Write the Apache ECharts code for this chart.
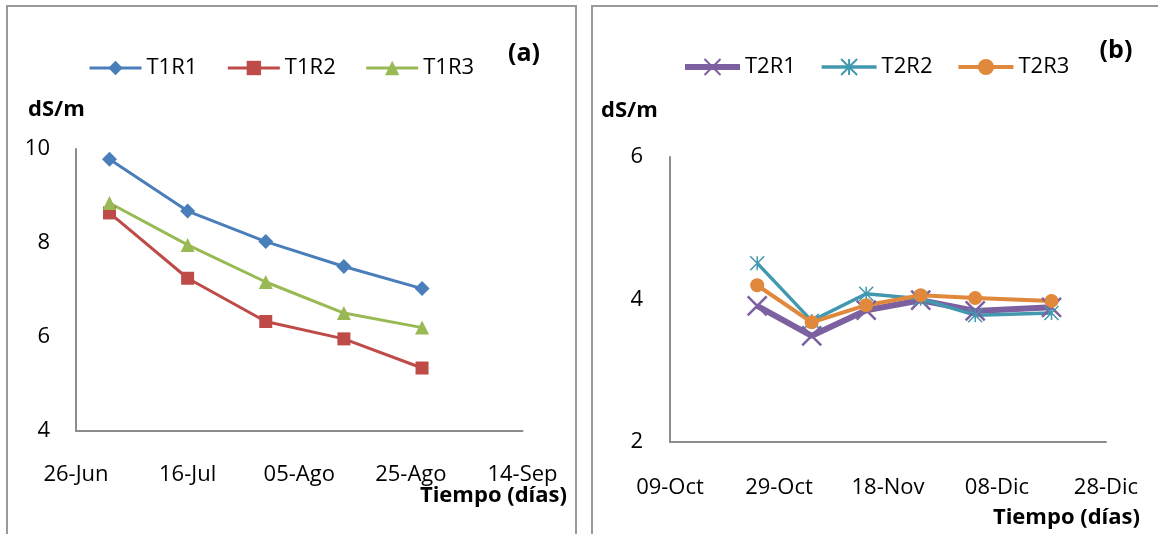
<!DOCTYPE html>
<html><head><meta charset="utf-8">
<script src="https://cdn.jsdelivr.net/npm/echarts@6/dist/echarts.min.js"></script>
<style>html,body{margin:0;padding:0;background:#fff}#c{width:1158px;height:534px}</style>
</head><body><div id="c"></div>
<script>
// Panel (a)
const startA = '06-26';
const datesA = ['07-02', '07-16', '07-30', '08-13', '08-27'];
const ticksA = ['26-Jun', '16-Jul', '05-Ago', '25-Ago', '14-Sep'];
const T1R1 = [9.78, 8.68, 8.03, 7.50, 7.03];
const T1R2 = [8.64, 7.25, 6.33, 5.96, 5.34];
const T1R3 = [8.85, 7.96, 7.17, 6.51, 6.20];
// Panel (b)
const startB = '10-09';
const datesB = ['10-25', '11-04', '11-14', '11-24', '12-04', '12-18'];
const ticksB = ['09-Oct', '29-Oct', '18-Nov', '08-Dic', '28-Dic'];
const T2R1 = [3.91, 3.49, 3.85, 3.99, 3.84, 3.89];
const T2R2 = [4.51, 3.70, 4.08, 4.01, 3.78, 3.81];
const T2R3 = [4.20, 3.68, 3.92, 4.06, 4.02, 3.98];

function toDate(s) { const p = s.split('-').map(Number); return Date.UTC(2013, p[0] - 1, p[1]); }
function days(start, d) { return Math.round((toDate(d) - toDate(start)) / 86400000); }
function pairs(start, dates, vals) { return dates.map((d, i) => [days(start, d), vals[i]]); }

const FONT = "'Open Sans', sans-serif";
const AX = '#8c8c8c';
const chart = echarts.init(document.getElementById('c'));

function xAx(idx, ticks, margin) {
  return {
    type: 'value', gridIndex: idx, min: 0, max: 80, interval: 20,
    axisLine: { show: true, onZero: false, lineStyle: { color: AX, width: 2 } },
    axisTick: { show: false }, splitLine: { show: false },
    axisLabel: { margin: margin, fontSize: 22, color: '#000', fontFamily: FONT,
      showMinLabel: true, showMaxLabel: true, formatter: v => ticks[Math.round(v / 20)] }
  };
}
function yAx(idx, min, max, margin) {
  return {
    type: 'value', gridIndex: idx, min: min, max: max, interval: 2,
    axisLine: { show: true, onZero: false, lineStyle: { color: AX, width: 2 } },
    axisTick: { show: false }, splitLine: { show: false },
    axisLabel: { margin: margin, fontSize: 22, color: '#000', fontFamily: FONT,
      showMinLabel: true, showMaxLabel: true }
  };
}

const C = { b: '#4A7EBB', r: '#BE4B48', g: '#98B954', p: '#7D60A0', t: '#4198AF', o: '#E0883C' };
const xPath = 'path://M0,0L10,10M10,0L0,10';
const starPath = 'path://M5,0L5,10M0,0L10,10M10,0L0,10';

const option = {
  animation: false,
  grid: [
    { left: 76, right: 1158 - 522.5, top: 149, bottom: 534 - 431 },
    { left: 670, right: 1158 - 1106, top: 157, bottom: 534 - 442 }
  ],
  xAxis: [xAx(0, ticksA, 33), xAx(1, ticksB, 35)],
  yAxis: [yAx(0, 4, 10, 26), yAx(1, 2, 6, 27)],
  legend: [
    { data: ['T1R1', 'T1R2', 'T1R3'], left: 88, top: 57, padding: 0, itemWidth: 52, itemHeight: 18, itemGap: 29,
      lineStyle: { width: 'inherit' },
      textStyle: { fontSize: 22, color: '#000', fontFamily: FONT } },
    { data: ['T2R1', 'T2R2', 'T2R3'], left: 682, top: 56, padding: 0, itemWidth: 55, itemHeight: 20, itemGap: 24,
      lineStyle: { width: 'inherit' },
      textStyle: { fontSize: 22, color: '#000', fontFamily: FONT } }
  ],
  series: [
    { name: 'T1R1', type: 'line', xAxisIndex: 0, yAxisIndex: 0, data: pairs(startA, datesA, T1R1),
      color: C.b, symbol: 'diamond', symbolSize: 15, lineStyle: { width: 3, color: C.b }, itemStyle: { color: C.b } },
    { name: 'T1R2', type: 'line', xAxisIndex: 0, yAxisIndex: 0, data: pairs(startA, datesA, T1R2),
      color: C.r, symbol: 'rect', symbolSize: 13, lineStyle: { width: 3, color: C.r }, itemStyle: { color: C.r } },
    { name: 'T1R3', type: 'line', xAxisIndex: 0, yAxisIndex: 0, data: pairs(startA, datesA, T1R3),
      color: C.g, symbol: 'triangle', symbolSize: 14, lineStyle: { width: 3, color: C.g }, itemStyle: { color: C.g } },
    { name: 'T2R1', type: 'line', xAxisIndex: 1, yAxisIndex: 1, data: pairs(startB, datesB, T2R1),
      color: C.p, symbol: xPath, symbolSize: 19, lineStyle: { width: 6, color: C.p },
      itemStyle: { color: C.p, borderColor: C.p, borderWidth: 2.5 } },
    { name: 'T2R2', type: 'line', xAxisIndex: 1, yAxisIndex: 1, data: pairs(startB, datesB, T2R2),
      color: C.t, symbol: starPath, symbolSize: 14, lineStyle: { width: 3.5, color: C.t },
      itemStyle: { color: C.t, borderColor: C.t, borderWidth: 1.5 } },
    { name: 'T2R3', type: 'line', xAxisIndex: 1, yAxisIndex: 1, data: pairs(startB, datesB, T2R3),
      color: C.o, symbol: 'circle', symbolSize: 14, lineStyle: { width: 4, color: C.o }, itemStyle: { color: C.o } }
  ],
  graphic: [
    { type: 'rect', shape: { x: 7, y: 6, width: 569, height: 560 }, style: { fill: 'none', stroke: '#999', lineWidth: 2 }, silent: true },
    { type: 'rect', shape: { x: 592, y: 6, width: 620, height: 560 }, style: { fill: 'none', stroke: '#999', lineWidth: 2 }, silent: true },
    { type: 'text', x: 28, y: 110, style: { text: 'dS/m', font: "bold 22px 'Open Sans'", fill: '#000', textVerticalAlign: 'middle' } },
    { type: 'text', x: 601, y: 111, style: { text: 'dS/m', font: "bold 22px 'Open Sans'", fill: '#000', textVerticalAlign: 'middle' } },
    { type: 'text', x: 524, y: 54, style: { text: '(a)', font: "bold 25px 'Open Sans'", fill: '#000', textAlign: 'center', textVerticalAlign: 'middle' } },
    { type: 'text', x: 1116, y: 51, style: { text: '(b)', font: "bold 25px 'Open Sans'", fill: '#000', textAlign: 'center', textVerticalAlign: 'middle' } },
    { type: 'text', x: 567, y: 496, style: { text: 'Tiempo (días)', font: "bold 22px 'Open Sans'", fill: '#000', textAlign: 'right', textVerticalAlign: 'middle' } },
    { type: 'text', x: 1140, y: 518, style: { text: 'Tiempo (días)', font: "bold 22px 'Open Sans'", fill: '#000', textAlign: 'right', textVerticalAlign: 'middle' } }
  ]
};
chart.setOption(option);
</script>
</body></html>
